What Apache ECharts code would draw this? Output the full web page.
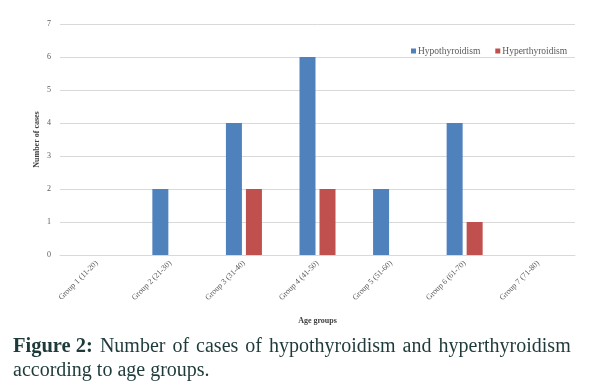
<!DOCTYPE html>
<html><head><meta charset="utf-8">
<script src="https://cdn.jsdelivr.net/npm/echarts@6/dist/echarts.min.js"></script>
<style>html,body{margin:0;padding:0;background:#fff}#c{width:590px;height:388px}</style>
</head><body><div id="c"></div>
<script>
var categories = ["Group 1 (11-20)","Group 2 (21-30)","Group 3 (31-40)","Group 4 (41-50)","Group 5 (51-60)","Group 6 (61-70)","Group 7 (71-80)"];
var hypo = [0,2,4,6,2,4,0];
var hyper = [0,0,2,2,0,1,0];
var yTicks = [0,1,2,3,4,5,6,7];
var chart = echarts.init(document.getElementById('c'));
var serif = "'Liberation Serif', 'DejaVu Serif', serif";
var capWords = ['Number','of','cases','of','hypothyroidism','and','hyperthyroidism'];
var capText = '{b|Figure 2:}{s| }' + capWords.join('{s| }');
chart.setOption({
  animation:false,
  backgroundColor:'#fff',
  grid:{left:60,right:15,top:24,bottom:133},
  legend:{
    left:406, top:41, itemWidth:5, itemHeight:5, itemGap:15,
    icon:'rect',
    textStyle:{fontFamily:serif,fontSize:9.5,color:'#595959',padding:[0,0,0,-3]},
    data:['Hypothyroidism','Hyperthyroidism']
  },
  xAxis:{
    type:'category', data:categories,
    axisLine:{lineStyle:{color:'#d9d9d9'}},
    axisTick:{show:false},
    axisLabel:{rotate:45,fontFamily:serif,fontSize:8,color:'#595959',margin:7,interval:0},
    name:'Age groups', nameLocation:'middle', nameGap:62, nameMoveOverlap:false,
    nameTextStyle:{fontFamily:serif,fontSize:8,fontWeight:'bold',color:'#404040'}
  },
  yAxis:{
    type:'value', min:0, max:7, interval:1,
    axisLine:{show:false}, axisTick:{show:false},
    splitLine:{lineStyle:{color:'#d9d9d9'}},
    axisLabel:{fontFamily:serif,fontSize:8,color:'#595959',margin:9,
      formatter:function(v){return yTicks.indexOf(v)>=0?String(v):'';}},
    name:'Number of cases', nameLocation:'middle', nameGap:19, nameMoveOverlap:false,
    nameTextStyle:{fontFamily:serif,fontSize:8,fontWeight:'bold',color:'#404040'}
  },
  series:[
    {name:'Hypothyroidism',type:'bar',data:hypo,barWidth:16,barGap:'25%',itemStyle:{color:'#4f81bd'}},
    {name:'Hyperthyroidism',type:'bar',data:hyper,barWidth:16,barGap:'25%',itemStyle:{color:'#c0504d'}}
  ],
  graphic:[
    {type:'text',left:13,top:336,style:{
      text:capText,
      rich:{
        b:{fontFamily:"'Liberation Serif', serif",fontSize:20.5,fontWeight:'bold',fill:'#1e3a3a'},
        s:{fontFamily:"'Liberation Serif', serif",fontSize:20,width:7}
      },
      fontFamily:"'Liberation Serif', serif",fontSize:20,fill:'#1e3a3a'}},
    {type:'text',left:13,top:361,style:{
      text:'according to age groups.',
      fontFamily:"'Liberation Serif', serif",fontSize:20,fill:'#1e3a3a'}}
  ]
});
</script></body></html>
